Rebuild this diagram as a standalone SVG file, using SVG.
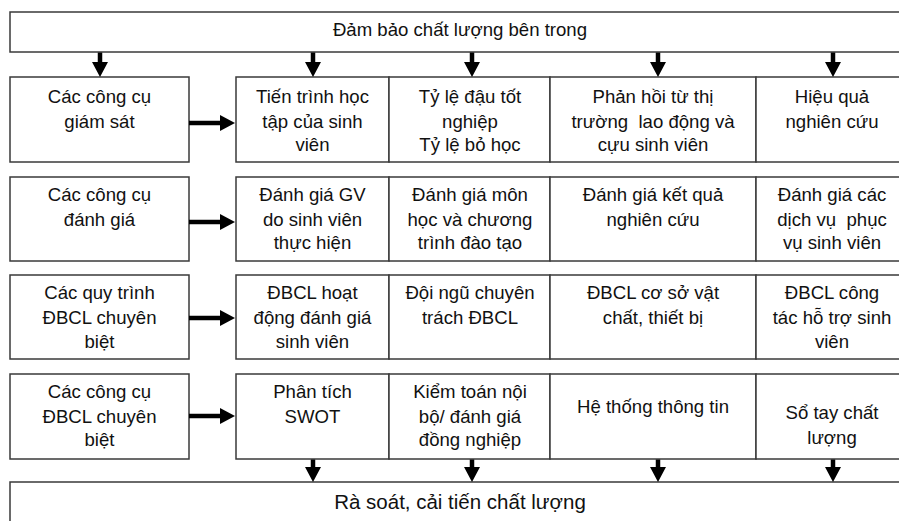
<svg xmlns="http://www.w3.org/2000/svg" width="899" height="521" viewBox="0 0 899 521">
<style>
rect.b{fill:#fff;stroke:#3a3a3a;stroke-width:1.5}
text{font-family:"Liberation Sans",Arial,sans-serif;font-size:18.6px;fill:#111;text-anchor:middle}
text.big{font-size:20.5px}
.c line{stroke:#000;stroke-width:4.5}
</style>
<defs>
<marker id="ah" viewBox="0 0 15 16" refX="0" refY="8" markerWidth="15" markerHeight="16" markerUnits="userSpaceOnUse" orient="auto">
<path d="M0,0 L15,8 L0,16 Z" fill="#000"/>
</marker>
</defs>
<rect width="899" height="521" fill="#fff"/>
<g id="top"><rect class="b" x="10" y="12" width="900" height="40"/><text x="460" y="36">Đảm bảo chất lượng bên trong</text></g>
<g id="bottom"><rect class="b" x="10" y="482" width="900" height="50"/><text class="big" x="460" y="509">Rà soát, cải tiến chất lượng</text></g>

<g id="l1"><rect class="b" x="10" y="77" width="179" height="85"/><text x="99.5" y="103">Các công cụ</text><text x="99.5" y="128">giám sát</text></g>
<g id="l2"><rect class="b" x="10" y="177" width="179" height="84"/><text x="99.5" y="201">Các công cụ</text><text x="99.5" y="226">đánh giá</text></g>
<g id="l3"><rect class="b" x="10" y="275" width="179" height="84"/><text x="99.5" y="299">Các quy trình</text><text x="99.5" y="324">ĐBCL chuyên</text><text x="99.5" y="348">biệt</text></g>
<g id="l4"><rect class="b" x="10" y="374" width="179" height="85"/><text x="99.5" y="398">Các công cụ</text><text x="99.5" y="423">ĐBCL chuyên</text><text x="99.5" y="446">biệt</text></g>

<g id="r1c1"><rect class="b" x="236" y="77" width="153" height="85"/><text x="312.5" y="103">Tiến trình học</text><text x="312.5" y="128">tập của sinh</text><text x="312.5" y="151">viên</text></g>
<g id="r1c2"><rect class="b" x="389" y="77" width="161" height="85"/><text x="470" y="103">Tỷ lệ đậu tốt</text><text x="470" y="128">nghiệp</text><text x="470" y="151">Tỷ lệ bỏ học</text></g>
<g id="r1c3"><rect class="b" x="550" y="77" width="206" height="85"/><text x="653" y="103">Phản hồi từ thị</text><text x="653" y="128" xml:space="preserve">trường  lao động và</text><text x="653" y="151">cựu sinh viên</text></g>
<g id="r1c4"><rect class="b" x="756" y="77" width="154" height="85"/><text x="832" y="103">Hiệu quả</text><text x="832" y="128">nghiên cứu</text></g>

<g id="r2c1"><rect class="b" x="236" y="177" width="153" height="84"/><text x="312.5" y="201">Đánh giá GV</text><text x="312.5" y="226">do sinh viên</text><text x="312.5" y="249">thực hiện</text></g>
<g id="r2c2"><rect class="b" x="389" y="177" width="161" height="84"/><text x="470" y="201">Đánh giá môn</text><text x="470" y="226">học và chương</text><text x="470" y="249">trình đào tạo</text></g>
<g id="r2c3"><rect class="b" x="550" y="177" width="206" height="84"/><text x="653" y="201">Đánh giá kết quả</text><text x="653" y="226">nghiên cứu</text></g>
<g id="r2c4"><rect class="b" x="756" y="177" width="154" height="84"/><text x="832" y="201">Đánh giá các</text><text x="832" y="226" xml:space="preserve">dịch vụ  phục</text><text x="832" y="249">vụ sinh viên</text></g>

<g id="r3c1"><rect class="b" x="236" y="275" width="153" height="84"/><text x="312.5" y="299">ĐBCL hoạt</text><text x="312.5" y="324">động đánh giá</text><text x="312.5" y="348">sinh viên</text></g>
<g id="r3c2"><rect class="b" x="389" y="275" width="161" height="84"/><text x="470" y="299">Đội ngũ chuyên</text><text x="470" y="324">trách ĐBCL</text></g>
<g id="r3c3"><rect class="b" x="550" y="275" width="206" height="84"/><text x="653" y="299">ĐBCL cơ sở vật</text><text x="653" y="324">chất, thiết bị</text></g>
<g id="r3c4"><rect class="b" x="756" y="275" width="154" height="84"/><text x="832" y="299">ĐBCL công</text><text x="832" y="324">tác hỗ trợ sinh</text><text x="832" y="348">viên</text></g>

<g id="r4c1"><rect class="b" x="236" y="374" width="153" height="85"/><text x="312.5" y="398">Phân tích</text><text x="312.5" y="423">SWOT</text></g>
<g id="r4c2"><rect class="b" x="389" y="374" width="161" height="85"/><text x="470" y="398">Kiểm toán nội</text><text x="470" y="423">bộ/ đánh giá</text><text x="470" y="446">đồng nghiệp</text></g>
<g id="r4c3"><rect class="b" x="550" y="374" width="206" height="85"/><text x="653" y="413">Hệ thống thông tin</text></g>
<g id="r4c4"><rect class="b" x="756" y="374" width="154" height="85"/><text x="832" y="419">Sổ tay chất</text><text x="832" y="444">lượng</text></g>

<g id="connectors" class="c">
<line x1="100" y1="52.5" x2="100" y2="62" marker-end="url(#ah)"/>
<line x1="313" y1="52.5" x2="313" y2="62" marker-end="url(#ah)"/>
<line x1="472" y1="52.5" x2="472" y2="62" marker-end="url(#ah)"/>
<line x1="658" y1="52.5" x2="658" y2="62" marker-end="url(#ah)"/>
<line x1="833" y1="52.5" x2="833" y2="62" marker-end="url(#ah)"/>
<line x1="189" y1="123" x2="220" y2="123" marker-end="url(#ah)"/>
<line x1="189" y1="222" x2="220" y2="222" marker-end="url(#ah)"/>
<line x1="189" y1="318" x2="220" y2="318" marker-end="url(#ah)"/>
<line x1="189" y1="416" x2="220" y2="416" marker-end="url(#ah)"/>
<line x1="313" y1="459.5" x2="313" y2="467" marker-end="url(#ah)"/>
<line x1="472" y1="459.5" x2="472" y2="467" marker-end="url(#ah)"/>
<line x1="658" y1="459.5" x2="658" y2="467" marker-end="url(#ah)"/>
<line x1="833" y1="459.5" x2="833" y2="467" marker-end="url(#ah)"/>
</g>
</svg>
